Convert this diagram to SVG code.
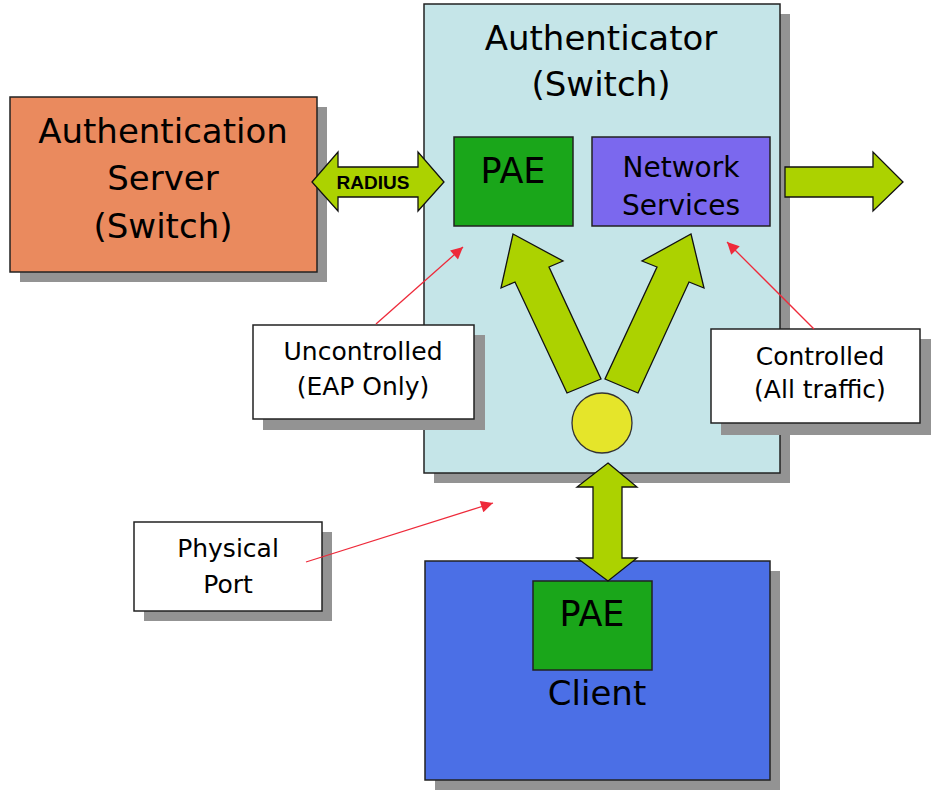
<svg xmlns="http://www.w3.org/2000/svg" width="931" height="796" viewBox="0 0 931 796">
<style>
.sh{fill:#939393}
.bx{stroke:#222;stroke-width:1.5}
.t{font-family:"DejaVu Sans",Verdana,sans-serif;fill:#000;text-anchor:middle}
.ga{fill:#acd200;stroke:#111;stroke-width:1.3;stroke-linejoin:miter}
.red{stroke:#ee2a3a;stroke-width:1.3;fill:none}
</style>
<defs>
<marker id="rh" viewBox="0 0 10 10" refX="10" refY="5" markerWidth="15" markerHeight="12" markerUnits="userSpaceOnUse" orient="auto">
<path d="M0,0 L10,5 L0,10 Z" fill="#ee2a3a"/>
</marker>
</defs>
<rect width="931" height="796" fill="#fff"/>

<g id="authenticator">
<rect class="sh" x="434" y="14" width="356" height="469"/>
<rect class="bx" x="424" y="4" width="356" height="469" fill="#c5e5e8"/>
<text class="t" x="601" y="50" font-size="34">Authenticator</text>
<text class="t" x="601" y="96" font-size="34">(Switch)</text>
</g>

<g id="auth-server">
<rect class="sh" x="20" y="107" width="307" height="175"/>
<rect class="bx" x="10" y="97" width="307" height="175" fill="#ea8a5e"/>
<text class="t" x="163" y="143" font-size="34">Authentication</text>
<text class="t" x="163" y="190" font-size="34">Server</text>
<text class="t" x="163" y="238" font-size="34">(Switch)</text>
</g>

<g id="pae-auth">
<rect class="bx" x="454" y="137" width="119" height="89" fill="#1aa61a"/>
<text class="t" x="513" y="183" font-size="35">PAE</text>
</g>

<g id="network-services">
<rect class="bx" x="592" y="137" width="178" height="89" fill="#7b68ee"/>
<text class="t" x="681" y="177" font-size="28">Network</text>
<text class="t" x="681" y="215" font-size="28">Services</text>
</g>

<g id="client">
<rect class="sh" x="435" y="571" width="345" height="219"/>
<rect class="bx" x="425" y="561" width="345" height="219" fill="#4b6fe6"/>
<text class="t" x="597" y="705" font-size="34">Client</text>
</g>

<g id="pae-client">
<rect class="bx" x="533" y="581" width="119" height="89" fill="#1aa61a"/>
<text class="t" x="592" y="626" font-size="35">PAE</text>
</g>

<g id="port">
<circle cx="602" cy="423" r="30" fill="#e5e52a" stroke="#333" stroke-width="1.3"/>
</g>

<g id="uncontrolled">
<rect class="sh" x="263" y="335" width="222" height="95"/>
<rect class="bx" x="253" y="325" width="221" height="94" fill="#fff"/>
<text class="t" x="363" y="360" font-size="25">Uncontrolled</text>
<text class="t" x="363" y="395" font-size="25">(EAP Only)</text>
</g>

<g id="controlled">
<rect class="sh" x="721" y="339" width="210" height="96"/>
<rect class="bx" x="711" y="329" width="209" height="94" fill="#fff"/>
<text class="t" x="820" y="365" font-size="25">Controlled</text>
<text class="t" x="820" y="398" font-size="25">(All traffic)</text>
</g>

<g id="physical-port">
<rect class="sh" x="144" y="532" width="188" height="89"/>
<rect class="bx" x="134" y="522" width="188" height="89" fill="#fff"/>
<text class="t" x="228" y="557" font-size="25">Physical</text>
<text class="t" x="228" y="593" font-size="25">Port</text>
</g>

<g id="connectors">
<path class="ga" d="M312,182 L338,152 L338,167 L418,167 L418,152 L444,182 L418,211 L418,197 L338,197 L338,211 Z"/>
<text x="373" y="189" font-family="'Liberation Sans',Arial,sans-serif" font-weight="bold" font-size="19" text-anchor="middle">RADIUS</text>
<path class="ga" d="M785,167 L873,167 L873,152 L903,182 L873,211 L873,197 L785,197 Z"/>
<path class="ga" d="M513,234 L563,261 L549,267 L601,379 L567,393 L515,282 L501,288 Z"/>
<path class="ga" d="M691,234 L704,288 L689,282 L638,393 L605,379 L657,267 L642,261 Z"/>
<path class="ga" d="M608,463 L637,487 L622,487 L622,558 L637,558 L608,581 L577,558 L593,558 L593,487 L577,487 Z"/>
<line class="red" x1="376" y1="324" x2="463" y2="247" marker-end="url(#rh)"/>
<line class="red" x1="814" y1="329" x2="727" y2="242" marker-end="url(#rh)"/>
<line class="red" x1="306" y1="562" x2="493" y2="503" marker-end="url(#rh)"/>
</g>
</svg>
